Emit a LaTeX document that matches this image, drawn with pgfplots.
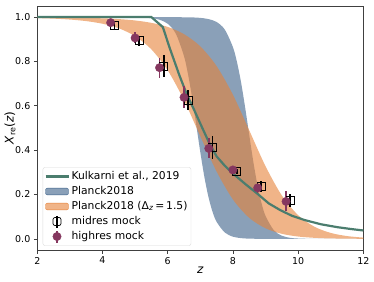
\documentclass[border=0pt]{standalone}
\usepackage{fontspec}
\setmainfont{DejaVu Sans}
\usepackage{pgfplots}
\pgfplotsset{compat=1.18}
\usepgfplotslibrary{fillbetween}
\definecolor{kgreen}{RGB}{75,125,110}
\definecolor{kpurple}{RGB}{133,55,95}
\definecolor{pblue}{RGB}{60,97,137}
\definecolor{porange}{RGB}{230,130,57}
\begin{document}
\begin{tikzpicture}
\begin{axis}[
 at={(0,0)}, anchor=south west,
 scale only axis, width=326bp, height=244bp,
 xmin=2, xmax=12, ymin=-0.05, ymax=1.05,
 xtick={2,4,6,8,10,12}, ytick={0,0.2,0.4,0.6,0.8,1.0},
 yticklabel style={/pgf/number format/.cd, fixed, fixed zerofill, precision=1},
 /pgf/number format/assume math mode=true,
 tick label style={font=\fontsize{9.5}{11}\selectfont},
 tick align=outside, tick pos=left, major tick length=3.5bp,
 axis line style={black!75, line width=0.8bp}, tick style={black!75, line width=0.8bp},
 xlabel={\textit{z}}, ylabel={\textit{X}\textsubscript{re}(\textit{z})},
 label style={font=\fontsize{12}{14}\selectfont},
 xlabel style={at={(axis description cs:0.5,-0.082)}, anchor=center},
 ylabel style={at={(axis description cs:-0.0837,0.5)}, anchor=center},
 legend style={at={(0.0166,0.0176)}, anchor=south west, draw=black!15, rounded corners=2bp,
   font=\fontsize{10.8}{13}\selectfont, row sep=0bp, inner sep=1.5bp,
   nodes={inner sep=2bp, text height=8bp, text depth=3bp}},
 legend cell align=left,
]
\addlegendimage{legend image code/.code={\draw[kgreen,line width=2.2bp] (0bp,0bp)--(23bp,0bp);}}
\addlegendentry{Kulkarni et al., 2019}
\addlegendimage{legend image code/.code={\fill[pblue,fill opacity=0.6] (0bp,-3.4bp) rectangle (23bp,3.4bp);}}
\addlegendentry{Planck2018}
\addlegendimage{legend image code/.code={\fill[porange,fill opacity=0.6] (0bp,-3.4bp) rectangle (23bp,3.4bp);}}
\addlegendentry{Planck2018 (Δ\textsubscript{\textit{z}}\,=\,1.5)}
\addlegendimage{legend image code/.code={\draw[black,line width=1.6bp] (11.5bp,-6bp)--(11.5bp,6bp); \draw[black,line width=0.7bp] (7.5bp,-4bp) rectangle (15.5bp,4bp);}}
\addlegendentry{midres mock}
\addlegendimage{legend image code/.code={\draw[kpurple,line width=1.6bp] (11.5bp,-6bp)--(11.5bp,6bp); \fill[kpurple] (11.5bp,0bp) circle (4.2bp);}}
\addlegendentry{highres mock}

% Planck2018 band
\addplot[draw=none, name path=bl, smooth, forget plot] coordinates {
(2,1)(4,1)(5,0.999)(5.5,0.995)(5.75,0.988)(6,0.970)(6.25,0.925)(6.5,0.824)(6.625,0.741)(6.75,0.636)(6.875,0.515)(7,0.391)(7.125,0.2795)(7.25,0.189)(7.375,0.1224)(7.5,0.077)(7.75,0.029)(8,0.010)(8.25,0.0035)(8.5,0.0012)(9,0.0002)(10,0)(12,0)};
\addplot[draw=none, name path=bu, smooth, forget plot] coordinates {
(2,1)(6,0.9995)(6.5,0.999)(6.75,0.9986)(7,0.9965)(7.25,0.991)(7.5,0.978)(7.75,0.944)(8,0.865)(8.125,0.797)(8.25,0.706)(8.375,0.593)(8.5,0.470)(8.625,0.349)(8.75,0.245)(8.875,0.163)(9,0.104)(9.25,0.040)(9.5,0.0145)(9.75,0.005)(10,0.0017)(10.5,0.0002)(12,0)};
\addplot[fill=pblue, fill opacity=0.6, draw=none, forget plot] fill between[of=bu and bl];

% Planck2018 Delta z = 1.5 band
\addplot[draw=none, name path=ol, smooth, forget plot] coordinates {
(2,0.9954)(2.5,0.993)(3,0.9889)(3.5,0.9819)(4,0.970)(4.5,0.9495)(5,0.9138)(5.5,0.8544)(6,0.760)(6.5,0.6255)(7,0.463)(7.5,0.304)(8,0.178)(8.5,0.095)(9,0.048)(9.5,0.023)(10,0.0107)(10.5,0.0049)(11,0.0022)(12,0.0004)};
\addplot[draw=none, name path=ou, smooth, forget plot] coordinates {
(2,0.999)(3,0.9978)(4,0.9945)(4.5,0.9909)(5,0.9848)(5.5,0.974)(6,0.9557)(6.5,0.923)(7,0.868)(7.5,0.779)(8,0.650)(8.5,0.490)(9,0.328)(9.5,0.196)(10,0.107)(10.5,0.055)(11,0.027)(11.5,0.0128)(12,0.0059)};
\addplot[fill=porange, fill opacity=0.6, draw=none, forget plot] fill between[of=ou and ol];

% Kulkarni et al. 2019
\addplot[kgreen, line width=2.2bp, forget plot] coordinates {
(2,1.0)(5.5,1.0)(5.85,0.955)(6.07,0.857)(6.36,0.737)(6.58,0.654)(6.8,0.585)(7.0,0.52)(7.25,0.44)(7.5,0.372)(7.75,0.33)(8.0,0.295)(8.4,0.245)(8.75,0.204)(9.1,0.16)(9.45,0.13)(9.8,0.105)(10.2,0.085)(10.7,0.066)(11.2,0.053)(11.6,0.045)(12,0.038)};

% midres mock
\addplot[only marks, mark=square, mark size=4bp, black, line width=0.7bp, forget plot,
  error bars/.cd, y dir=both, y explicit, error mark=none,
  error bar style={line width=1.6bp, black}]
  table[x=x, y=y, y error=e] {
x y e
4.37 0.962 0.02
5.12 0.893 0.022
5.88 0.778 0.05
6.63 0.625 0.045
7.38 0.412 0.05
8.12 0.305 0.012
8.87 0.236 0.025
9.76 0.172 0.03
};

% highres mock
\addplot[only marks, mark=*, mark size=4.2bp, kpurple, mark options={fill=kpurple, draw=kpurple}, forget plot,
  error bars/.cd, y dir=both, y explicit, error mark=none,
  error bar style={line width=1.6bp, kpurple}]
  table[x=x, y=y, y error=e] {
x y e
4.25 0.975 0.015
5.00 0.906 0.025
5.75 0.772 0.045
6.50 0.638 0.05
7.26 0.408 0.045
8.00 0.311 0.012
8.76 0.230 0.025
9.63 0.169 0.045
};
\end{axis}
\pgfresetboundingbox
\path (-37.3bp,-32bp) rectangle (336.7bp,250bp);
\end{tikzpicture}
\end{document}
